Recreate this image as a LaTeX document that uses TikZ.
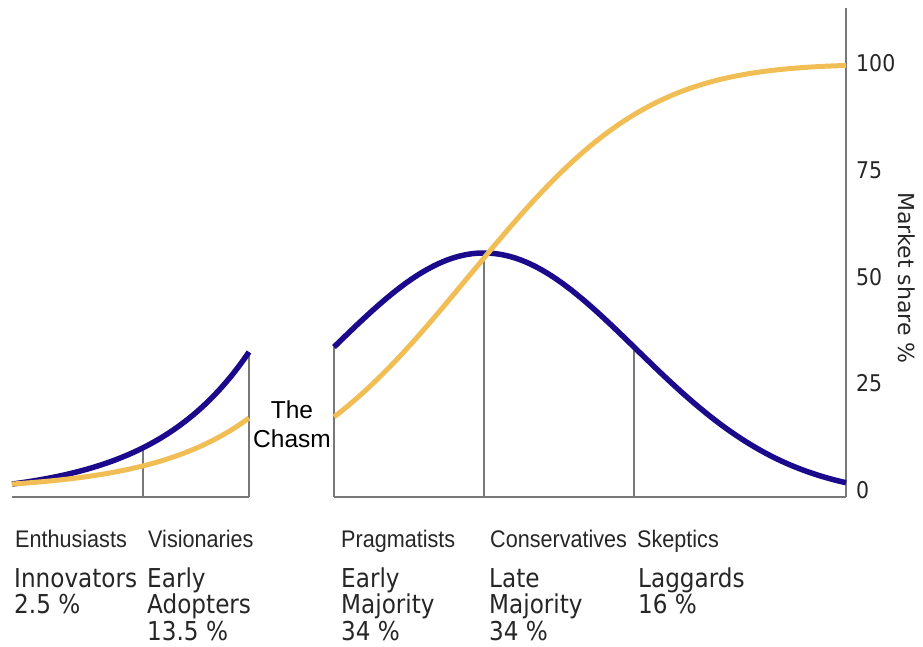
\documentclass[tikz,border=0pt]{standalone}
\usepackage{fontspec}
\setmainfont{DejaVu Sans}
\newfontfamily\dvs[FakeStretch=0.89]{DejaVu Sans}
\newfontfamily\dvn{DejaVu Sans}
\newfontfamily\lbs[FakeStretch=0.9]{Liberation Sans}
\newfontfamily\lbn{Liberation Sans}
\definecolor{curveblue}{RGB}{28,10,140}
\definecolor{curveyellow}{RGB}{240,190,85}
\definecolor{axisgray}{RGB}{120,120,120}
\tikzset{
  bluecurve/.style={draw=curveblue, line width=5.5pt},
  yellowcurve/.style={draw=curveyellow, line width=5pt},
  gridline/.style={draw=axisgray, line width=1.2pt},
  grouplabel/.style={inner sep=0pt, anchor=base west, font=\lbs\fontsize{24}{28}\selectfont, text=black!85},
  namelabel/.style={inner sep=0pt, anchor=base west, font=\dvs\fontsize{26}{27}\selectfont, text=black!85},
  ticklabel/.style={inner sep=0pt, anchor=west, font=\dvs\fontsize{23}{26}\selectfont, text=black!85},
  chasmlabel/.style={inner sep=0pt, anchor=base, font=\lbn\fontsize{24.5}{29}\selectfont, text=black},
}
\begin{document}
\begin{tikzpicture}[x=1pt, y=-1pt]
\useasboundingbox (0,0) rectangle (923,646);

% coordinates of the frame
\coordinate (l0) at (12,497);
\coordinate (l1) at (143,497);
\coordinate (l2) at (249,497);
\coordinate (r0) at (334,497);
\coordinate (r1) at (484,497);
\coordinate (r2) at (634,497);
\coordinate (r3) at (846,497);
\coordinate (axtop) at (846,8);
\coordinate (l1t) at (143,{497-145*exp(0.0102*(143-249))});
\coordinate (l2t) at (249,{497-145});
\coordinate (r0t) at (334,{497-244*exp(-((334-484)/152)^2/2)});
\coordinate (r1t) at (484,{497-244});
\coordinate (r2t) at (634,{497-244*exp(-((634-484)/152)^2/2)});

% baselines and dividers
\draw[gridline] (l0) -- (l2);
\draw[gridline] (r0) -- (r3);
\draw[gridline] (r3) -- (axtop);
\draw[gridline] (l1) -- (l1t);
\draw[gridline] (l2) -- (l2t);
\draw[gridline] (r0) -- (r0t);
\draw[gridline] (r1) -- (r1t);
\draw[gridline] (r2) -- (r2t);

% blue curves (adoption density)
\draw[bluecurve] plot[domain=12:249, samples=80, smooth] (\x,{497-145*exp(0.0102*(\x-249))});
\draw[bluecurve] plot[domain=334:846, samples=120, smooth] (\x,{497-244*exp(-((\x-484)/152)^2/2)});

% yellow curves (market share)
\draw[yellowcurve] plot[domain=12:249, samples=80, smooth] (\x,{490.5-72.5*exp(0.0102*(\x-249))});
\draw[yellowcurve] plot[domain=334:846, samples=140, smooth] (\x,{276-212*tanh(1.128379*((\x-469)/198)+0.100911*((\x-469)/198)^3)});

% axis labels
\node[ticklabel] (t100) at (856,63) {100};
\node[ticklabel] (t75) at (856,170) {75};
\node[ticklabel] (t50) at (856,277) {50};
\node[ticklabel] (t25) at (856,383) {25};
\node[ticklabel] (t0) at (856,490) {0};
\node[inner sep=0pt, rotate=-90, font=\dvn\fontsize{22}{26}\selectfont, text=black!85] (mshare) at (907,278) {Market share \%};

% chasm
\node[chasmlabel] (chasm1) at (292,418) {The};
\node[chasmlabel] (chasm2) at (292,447) {Chasm};

% group labels
\node[grouplabel] (enth) at (15,547) {Enthusiasts};
\node[grouplabel] (vis) at (148,547) {Visionaries};
\node[grouplabel] (prag) at (341,547) {Pragmatists};
\node[grouplabel] (cons) at (490,547) {Conservatives};
\node[grouplabel] (skep) at (637,547) {Skeptics};

% adopter categories
\node[namelabel] (inno1) at (14,587) {Innovators};
\node[namelabel] (inno2) at (14,613.5) {2.5 \%};
\node[namelabel] (ea1) at (147,587) {Early};
\node[namelabel] (ea2) at (147,613.5) {Adopters};
\node[namelabel] (ea3) at (147,640) {13.5 \%};
\node[namelabel] (em1) at (341,587) {Early};
\node[namelabel] (em2) at (341,613.5) {Majority};
\node[namelabel] (em3) at (341,640) {34 \%};
\node[namelabel] (lm1) at (489,587) {Late};
\node[namelabel] (lm2) at (489,613.5) {Majority};
\node[namelabel] (lm3) at (489,640) {34 \%};
\node[namelabel] (lag1) at (638,587) {Laggards};
\node[namelabel] (lag2) at (638,613.5) {16 \%};
\end{tikzpicture}
\end{document}
